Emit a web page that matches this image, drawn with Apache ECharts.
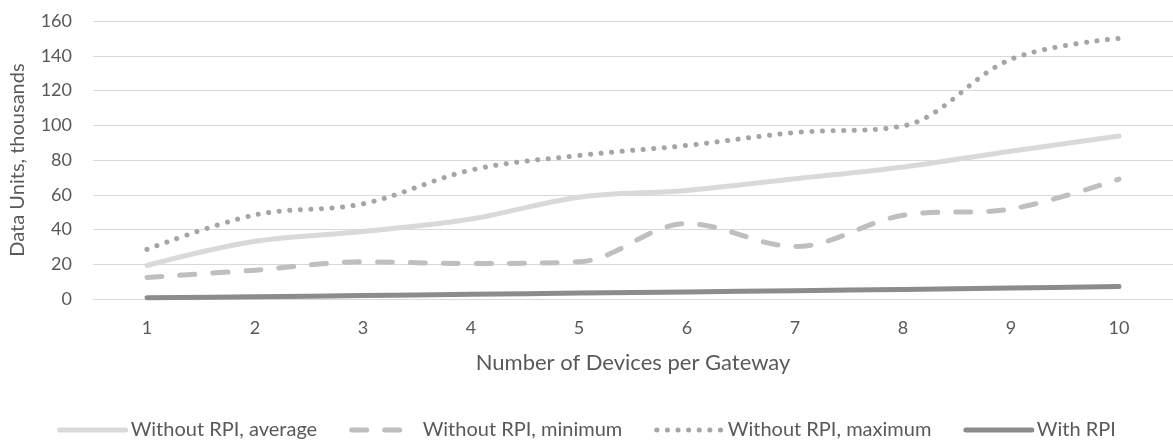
<!DOCTYPE html>
<html>
<head>
<meta charset="utf-8">
<script src="https://cdn.jsdelivr.net/npm/echarts@6/dist/echarts.min.js"></script>
<style>
  html, body { margin: 0; padding: 0; background: #fff; }
  #chart { width: 1173px; height: 440px; }
</style>
</head>
<body>
<div id="chart"></div>
<script>
// Devices per gateway (x axis)
const devices = ['1', '2', '3', '4', '5', '6', '7', '8', '9', '10'];

// Data units transmitted, in thousands
const withoutRpiAverage = [19.3, 33.2, 38.8, 46.0, 58.6, 62.5, 69.2, 76.0, 85.0, 93.8];
const withoutRpiMinimum = [12.4, 16.6, 21.4, 20.4, 21.4, 43.4, 30.2, 48.2, 51.8, 69.0];
const withoutRpiMaximum = [28.6, 48.4, 54.8, 74.2, 82.6, 88.4, 95.8, 99.6, 138.0, 150.0];
const withRpi = [0.7, 1.3, 2.0, 2.7, 3.4, 4.1, 4.8, 5.5, 6.3, 7.2];

// Value axis ticks
const yMin = 0, yMax = 160, yStep = 20;

const FONT = 'Lato';
const TEXT = '#595959';

function lineSeries(name, data, color, width, dash) {
  return {
    name: name,
    type: 'line',
    data: data,
    smooth: 0.35,
    symbol: 'none',
    lineStyle: { color: color, width: width, type: dash, cap: 'round', join: 'round' },
    itemStyle: { color: color },
    z: 3
  };
}

const chart = echarts.init(document.getElementById('chart'));
chart.setOption({
  animation: false,
  backgroundColor: '#fff',
  textStyle: { fontFamily: FONT, color: TEXT },
  grid: { left: 93, right: -2, top: 21, bottom: 141, containLabel: false },
  legend: {
    bottom: 0,
    left: 'center',
    padding: 0,
    itemWidth: 66,
    itemHeight: 14,
    itemGap: 32,
    itemStyle: { opacity: 0 },
    lineStyle: { width: 5, cap: 'round' },
    textStyle: { fontFamily: FONT, fontSize: 20, color: TEXT },
    data: ['Without RPI, average', 'Without RPI, minimum', 'Without RPI, maximum', 'With RPI']
  },
  xAxis: {
    type: 'category',
    data: devices,
    boundaryGap: true,
    name: 'Number of Devices per Gateway',
    nameLocation: 'middle',
    nameGap: 53,
    nameTextStyle: { fontFamily: FONT, fontSize: 22, color: TEXT },
    axisLine: { show: true, lineStyle: { color: '#d9d9d9', width: 1 } },
    axisTick: { show: false },
    axisLabel: { fontFamily: FONT, fontSize: 18, color: TEXT, margin: 20 },
    splitLine: { show: false }
  },
  yAxis: {
    type: 'value',
    min: yMin,
    max: yMax,
    interval: yStep,
    name: 'Data Units, thousands',
    nameLocation: 'middle',
    nameRotate: 90,
    nameGap: 65,
    nameTextStyle: { fontFamily: FONT, fontSize: 20, color: TEXT },
    axisLine: { show: false },
    axisTick: { show: false },
    axisLabel: { fontFamily: FONT, fontSize: 18, color: TEXT, margin: 21 },
    splitLine: { lineStyle: { color: '#d9d9d9', width: 1 } }
  },
  series: [
    lineSeries('Without RPI, average', withoutRpiAverage, '#d9d9d9', 5, 'solid'),
    lineSeries('Without RPI, minimum', withoutRpiMinimum, '#bfbfbf', 5, [15, 18]),
    lineSeries('Without RPI, maximum', withoutRpiMaximum, '#a5a5a5', 5, [0.1, 10.5]),
    lineSeries('With RPI', withRpi, '#8c8c8c', 5, 'solid')
  ]
});
</script>
</body>
</html>
